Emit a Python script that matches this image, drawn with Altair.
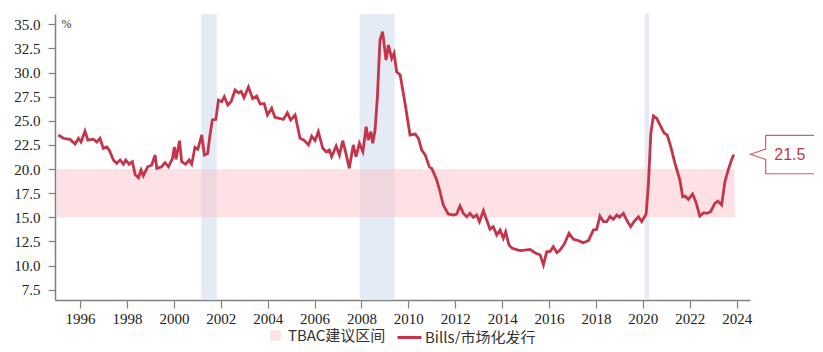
import altair as alt
import pandas as pd

# ---- data ----
dates = [1995.07, 1995.29, 1995.57, 1995.79, 1995.93, 1996.04, 1996.21, 1996.33, 1996.57, 1996.71,
         1996.85, 1996.99, 1997.14, 1997.24, 1997.42, 1997.56, 1997.71, 1997.85, 1997.95, 1998.09,
         1998.23, 1998.35, 1998.49, 1998.60, 1998.70, 1998.88, 1999.05, 1999.20, 1999.27, 1999.48,
         1999.62, 1999.77, 1999.94, 2000.02, 2000.09, 2000.24, 2000.33, 2000.50, 2000.65, 2000.76,
         2000.90, 2001.02, 2001.19, 2001.30, 2001.44, 2001.54, 2001.64, 2001.79, 2001.90, 2002.04,
         2002.15, 2002.30, 2002.44, 2002.61, 2002.75, 2002.87, 2002.99, 2003.18, 2003.36, 2003.53,
         2003.68, 2003.85, 2003.99, 2004.17, 2004.31, 2004.50, 2004.67, 2004.84, 2004.98, 2005.17,
         2005.38, 2005.55, 2005.74, 2005.88, 2006.02, 2006.16, 2006.35, 2006.49, 2006.63, 2006.73,
         2006.92, 2007.06, 2007.20, 2007.34, 2007.48, 2007.65, 2007.77, 2007.91, 2008.06, 2008.20,
         2008.29, 2008.40, 2008.48, 2008.58, 2008.68, 2008.79, 2008.90, 2009.05, 2009.15, 2009.29,
         2009.39, 2009.50, 2009.65, 2009.86, 2010.07, 2010.29, 2010.43, 2010.57, 2010.71, 2010.90,
         2011.00, 2011.21, 2011.35, 2011.49, 2011.70, 2011.92, 2012.06, 2012.20, 2012.35, 2012.49,
         2012.63, 2012.77, 2012.91, 2013.03, 2013.20, 2013.34, 2013.48, 2013.62, 2013.77, 2013.91,
         2014.05, 2014.15, 2014.29, 2014.43, 2014.58, 2014.76, 2014.98, 2015.19, 2015.40, 2015.62,
         2015.76, 2015.90, 2016.04, 2016.18, 2016.33, 2016.47, 2016.65, 2016.85, 2017.04, 2017.25,
         2017.46, 2017.68, 2017.89, 2018.03, 2018.17, 2018.32, 2018.46, 2018.60, 2018.74, 2018.89,
         2019.00, 2019.17, 2019.31, 2019.48, 2019.62, 2019.81, 2019.95, 2020.14, 2020.24, 2020.34,
         2020.45, 2020.59, 2020.73, 2020.90, 2021.04, 2021.19, 2021.37, 2021.58, 2021.70, 2021.80,
         2021.94, 2022.12, 2022.26, 2022.43, 2022.60, 2022.74, 2022.89, 2023.07, 2023.20, 2023.36,
         2023.50, 2023.64, 2023.78, 2023.88]
bills_share = [23.53, 23.19, 23.08, 22.60, 23.19, 22.80, 23.94, 23.00, 23.10, 22.80,
               23.19, 22.15, 22.30, 21.97, 20.94, 20.60, 20.94, 20.50, 20.94, 20.50,
               20.76, 19.40, 19.10, 19.90, 19.30, 20.24, 20.40, 21.45, 20.07, 20.24,
               20.66, 20.24, 21.10, 22.30, 21.00, 22.94, 20.76, 20.50, 20.94, 20.50,
               22.25, 22.05, 23.53, 21.45, 21.60, 23.53, 25.08, 25.15, 27.15, 26.98,
               27.50, 26.64, 26.98, 28.20, 27.90, 28.05, 27.40, 28.50, 27.30, 27.57,
               26.74, 26.80, 25.60, 26.30, 25.36, 25.26, 25.15, 25.84, 25.08, 25.60,
               23.19, 23.00, 22.50, 23.40, 22.94, 23.87, 22.15, 21.80, 21.97, 21.28,
               22.39, 21.45, 22.94, 21.60, 20.07, 22.50, 21.28, 22.67, 21.80, 24.39,
               23.00, 23.87, 22.67, 24.05, 27.50, 33.37, 34.23, 31.30, 32.86, 31.47,
               32.00, 30.09, 29.75, 26.80, 23.53, 23.63, 23.19, 21.97, 21.50, 20.20,
               20.07, 18.86, 17.65, 16.27, 15.34, 15.24, 15.34, 16.17, 15.41, 15.06,
               15.41, 15.00, 15.24, 14.55, 15.68, 14.72, 13.76, 14.03, 13.17, 13.68,
               12.82, 13.50, 12.13, 11.79, 11.68, 11.54, 11.61, 11.68, 11.33, 11.10,
               10.06, 11.44, 11.44, 11.96, 11.33, 11.61, 12.23, 13.34, 12.72, 12.58,
               12.37, 12.58, 13.68, 13.76, 15.13, 14.55, 14.55, 15.10, 14.80, 15.24,
               15.00, 15.41, 14.72, 14.03, 14.55, 15.06, 14.55, 15.34, 18.52, 23.70,
               25.50, 25.26, 24.57, 23.77, 23.53, 22.32, 20.60, 18.86, 17.13, 17.20,
               16.86, 17.41, 16.60, 15.13, 15.48, 15.41, 15.58, 16.45, 16.68, 16.27,
               18.69, 19.90, 20.94, 21.50]

recession_start = [2001.17, 2007.92, 2020.08]
recession_end = [2001.83, 2009.42, 2020.27]

band_name = ["TBAC建议区间"]
band_start = [1995.0]
band_end = [2023.92]
band_low = [15.0]
band_high = [20.0]

series_name = "Bills/市场化发行"
x_ticks = list(range(1996, 2025, 2))
y_ticks = [7.5, 10.0, 12.5, 15.0, 17.5, 20.0, 22.5, 25.0, 27.5, 30.0, 32.5, 35.0]

# ---- tables ----
line_df = pd.DataFrame({"date": dates, "value": bills_share, "series": series_name})
rec_df = pd.DataFrame({"start": recession_start, "end": recession_end})
band_df = pd.DataFrame({"name": band_name, "start": band_start, "end": band_end,
                        "lo": band_low, "hi": band_high})
last_df = pd.DataFrame({"date": [dates[-1]], "value": [bills_share[-1]],
                        "label": [f"{bills_share[-1]:.1f}"]})

LINE_COLOR = "#c5354a"
AXIS_COLOR = "#808080"
SERIF = "Liberation Serif"
CJK = "Noto Sans CJK SC"

x_scale = alt.Scale(domain=[1994.93, 2024.57], nice=False, zero=False)
y_scale = alt.Scale(domain=[6.43, 36.07], nice=False, zero=False)

x_axis = alt.Axis(values=x_ticks, format="d", title=None, grid=False,
                  labelFont=SERIF, labelFontSize=15, labelColor="#222222",
                  tickSize=8, tickColor=AXIS_COLOR, domainColor=AXIS_COLOR,
                  domainWidth=1.5, tickWidth=1.2, labelPadding=3, labelFlush=False)
y_axis = alt.Axis(values=y_ticks, format=".1f", title="%", grid=False,
                  titleAngle=0, titleX=6, titleY=4, titleAlign="left", titleBaseline="top",
                  titleFont=SERIF, titleFontSize=12, titleFontWeight="normal", titleColor="#333333",
                  labelFont=SERIF, labelFontSize=15, labelColor="#222222",
                  tickSize=7, tickColor=AXIS_COLOR, domainColor=AXIS_COLOR,
                  domainWidth=1.5, tickWidth=1.2, labelPadding=8)

rec = alt.Chart(rec_df).mark_rect(color="#dfe7f3", opacity=0.85).encode(
    x=alt.X("start:Q", scale=x_scale, axis=x_axis),
    x2="end:Q",
)

band = alt.Chart(band_df).mark_rect(opacity=0.5).encode(
    x=alt.X("start:Q", scale=x_scale, axis=x_axis),
    x2="end:Q",
    y=alt.Y("lo:Q", scale=y_scale, axis=y_axis),
    y2="hi:Q",
    color=alt.Color("name:N", scale=alt.Scale(domain=band_name, range=["#fbc3c9"]),
                    legend=alt.Legend(orient="none", legendX=213, legendY=314, title=None,
                                      symbolType="square", symbolSize=110, symbolStrokeWidth=0,
                                      labelFont=CJK, labelFontSize=15, labelColor="#333333",
                                      labelOffset=5, padding=0)),
)

line = alt.Chart(line_df).mark_line(strokeWidth=2.8, interpolate="linear").encode(
    x=alt.X("date:Q", scale=x_scale, axis=x_axis),
    y=alt.Y("value:Q", scale=y_scale, axis=y_axis),
    color=alt.Color("series:N", scale=alt.Scale(domain=[series_name], range=[LINE_COLOR]),
                    legend=alt.Legend(orient="none", legendX=341, legendY=310, title=None,
                                      symbolType="stroke", symbolSize=576, symbolStrokeWidth=3,
                                      labelFont=CJK, labelFontSize=15, labelColor="#333333",
                                      labelOffset=2, padding=0)),
)

callout_path = ("M -0.98 -0.01 L -0.52 -0.17 L -0.52 -0.58 L 0.97 -0.58 "
                "L 0.97 0.58 L -0.52 0.58 L -0.52 0.15 Z")
box = alt.Chart(last_df).mark_point(shape=callout_path, size=4356, filled=True,
                                    fill="white", stroke="#d0606a", strokeWidth=1.2,
                                    opacity=1, fillOpacity=1, xOffset=49).encode(
    x=alt.X("date:Q", scale=x_scale, axis=x_axis),
    y=alt.Y("value:Q", scale=y_scale, axis=y_axis),
)
label = alt.Chart(last_df).mark_text(dx=56, fontSize=16, font="Liberation Sans",
                                     color=LINE_COLOR, align="center", baseline="middle").encode(
    x=alt.X("date:Q", scale=x_scale, axis=x_axis),
    y=alt.Y("value:Q", scale=y_scale, axis=y_axis),
    text="label:N",
)

chart = alt.layer(rec, band, line, box, label).resolve_scale(
    color="independent"
).properties(
    width=695, height=286,
    background="white",
    autosize=alt.AutoSizeParams(type="none"),
    padding={"left": 47, "top": 6, "right": 64, "bottom": 44},
).configure_view(stroke=None)

chart.save("out.html", embed_options={"renderer": "svg", "actions": False})
